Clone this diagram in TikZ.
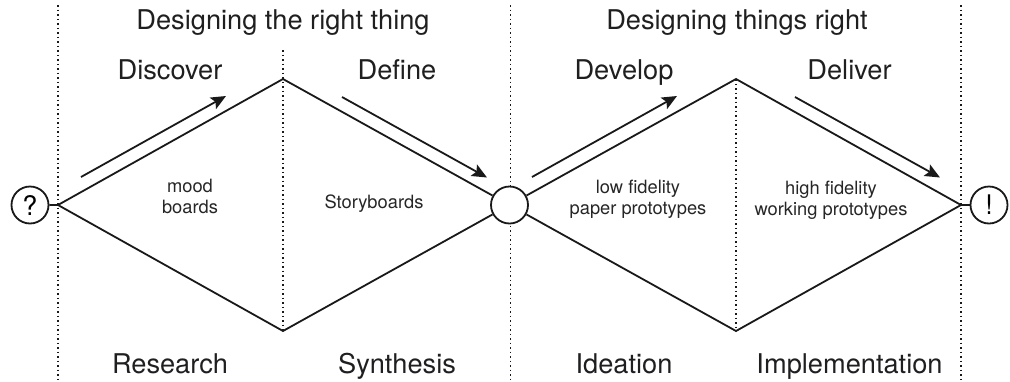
\documentclass[tikz,border=0pt]{standalone}
\usepackage{fontspec}
\setmainfont{TeX Gyre Heros}
\usetikzlibrary{arrows.meta}
\tikzset{
  px/.style={x=1pt,y=-1pt},
  heading/.style={font=\fontsize{27.2}{30}\selectfont,text=black!88,inner sep=0pt,anchor=base},
  inner label/.style={font=\fontsize{18.3}{21}\selectfont,text=black!85,align=center,inner sep=0pt,anchor=base},
  divider/.style={line width=1.8pt,dash pattern=on 1.8pt off 2.7pt,black!90},
  diamond line/.style={line width=1.8pt,black!90},
  flow/.style={line width=1.8pt,black!90,-{Stealth[length=15pt,width=13pt,inset=3pt]}},
  end circle/.style={circle,draw=black!90,line width=1.8pt,minimum size=37pt,inner sep=0pt,fill=white,font=\fontsize{27}{30}\selectfont}
}
\begin{document}
\begin{tikzpicture}[px]
\useasboundingbox (0,0) rectangle (1010,381);
\coordinate (t0) at (58,5); \coordinate (b0) at (58,380);
\coordinate (t1) at (283,50); \coordinate (b1) at (283,331);
\coordinate (t2) at (510.5,5); \coordinate (b2) at (510.5,380);
\coordinate (t3) at (736,79); \coordinate (b3) at (736,331);
\coordinate (t4) at (961,5); \coordinate (b4) at (961,380);
\draw[divider] (t0)--(b0);
\draw[divider] (t1)--(b1);
\draw[divider] (t2)--(b2);
\draw[divider] (t3)--(b3);
\draw[divider] (t4)--(b4);
\coordinate (L) at (58,205);
\coordinate (A) at (283,79);
\coordinate (B) at (283,331);
\coordinate (C) at (736,79);
\coordinate (D) at (736,331);
\coordinate (R) at (961,205);
\node[end circle] (q) at (30,205) {?};
\node[end circle] (m) at (509.5,205) {};
\node[end circle] (e) at (989,205) {!};
\draw[diamond line] (q)--(L)--(A)--(m)--(B)--(L);
\draw[diamond line] (m)--(C)--(R)--(D)--(m);
\draw[diamond line] (R)--(e);
\coordinate (a1s) at (81,177); \coordinate (a1e) at (226,96);
\coordinate (a2s) at (342,97); \coordinate (a2e) at (487,177.5);
\coordinate (a3s) at (532,177); \coordinate (a3e) at (677,96);
\coordinate (a4s) at (795,97); \coordinate (a4e) at (940,177.5);
\draw[flow] (a1s)--(a1e);
\draw[flow] (a2s)--(a2e);
\draw[flow] (a3s)--(a3e);
\draw[flow] (a4s)--(a4e);
\node[heading] (h1) at (283,29) {Designing the right thing};
\node[heading] (h2) at (737,29) {Designing things right};
\node[heading] (n1) at (170,79) {Discover};
\node[heading] (n2) at (397,79) {Define};
\node[heading] (n3) at (624,79) {Develop};
\node[heading] (n4) at (849.5,79) {Deliver};
\node[heading] (s1) at (170,373) {Research};
\node[heading] (s2) at (397,373) {Synthesis};
\node[heading] (s3) at (624,373) {Ideation};
\node[heading] (s4) at (849.5,373) {Implementation};
\node[inner label] (l1) at (190,213) {mood\\boards};
\node[inner label] (l2) at (374,208) {Storyboards};
\node[inner label] (l3) at (638,214) {low fidelity\\paper prototypes};
\node[inner label] (l4) at (831,215) {high fidelity\\working prototypes};
\end{tikzpicture}
\end{document}
